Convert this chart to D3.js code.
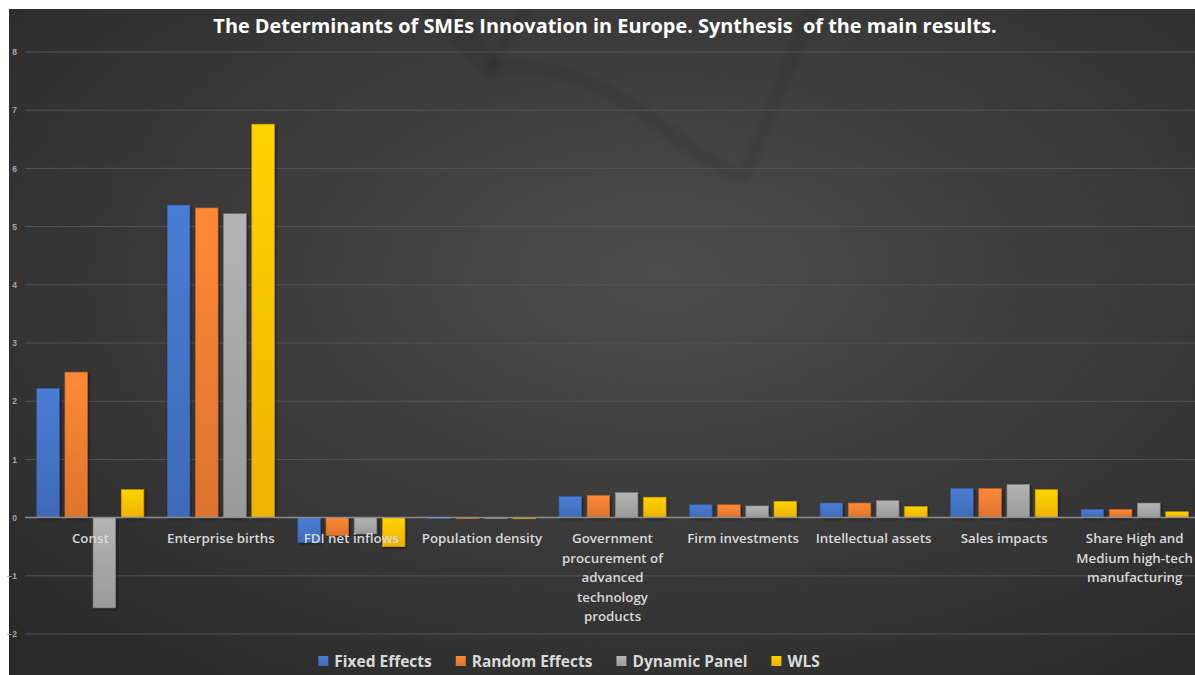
<!DOCTYPE html>
<html>
<head>
<meta charset="utf-8">
<script src="https://cdn.jsdelivr.net/npm/d3@7"></script>
<style>
  html, body { margin: 0; padding: 0; background: #fff; }
  svg { display: block; }
</style>
</head>
<body>
<svg id="chart" width="1195" height="675"></svg>
<script>
const title = "The Determinants of SMEs Innovation in Europe. Synthesis  of the main results.";

// category labels (line breaks as in the original)
const categories = [
    ["Const"],
    ["Enterprise births"],
    ["FDI net inflows"],
    ["Population density"],
    ["Government", "procurement of", "advanced", "technology", "products"],
    ["Firm investments"],
    ["Intellectual assets"],
    ["Sales impacts"],
    ["Share High and", "Medium high-tech", "manufacturing"]
];

const seriesNames = ["Fixed Effects", "Random Effects", "Dynamic Panel", "WLS"];
const seriesColors = ["#4472C4", "#ED7D31", "#A5A5A5", "#FFC000"];

const fixedEffects   = [2.22, 5.37, -0.43, -0.02, 0.36, 0.22, 0.25, 0.50, 0.14];
const randomEffects  = [2.50, 5.32, -0.31, -0.02, 0.38, 0.22, 0.25, 0.50, 0.14];
const dynamicPanel   = [-1.55, 5.22, -0.28, -0.02, 0.43, 0.20, 0.29, 0.57, 0.25];
const wls            = [0.48, 6.76, -0.50, -0.02, 0.35, 0.28, 0.19, 0.48, 0.10];

const yTicks = [-2, -1, 0, 1, 2, 3, 4, 5, 6, 7, 8];

const seriesValues = [fixedEffects, randomEffects, dynamicPanel, wls];

const svg = d3.select("#chart");
const W = 1195, H = 675;

// background panel
const defs = svg.append("defs");
const bg = defs.append("radialGradient").attr("id", "bg")
    .attr("cx", "55%").attr("cy", "40%").attr("r", "75%");
bg.append("stop").attr("offset", "0%").attr("stop-color", "#4c4c4c");
bg.append("stop").attr("offset", "100%").attr("stop-color", "#2a2a2a");

seriesColors.forEach((c, i) => {
    const g = defs.append("linearGradient").attr("id", "grad" + i)
        .attr("x1", 0).attr("y1", 0).attr("x2", 0).attr("y2", 1);
    g.append("stop").attr("offset", "0%").attr("stop-color", d3.color(c).brighter(0.25));
    g.append("stop").attr("offset", "100%").attr("stop-color", d3.color(c).darker(0.2));
});

const shadow = defs.append("filter").attr("id", "shadow")
    .attr("x", "-20%").attr("y", "-20%").attr("width", "150%").attr("height", "150%");
shadow.append("feDropShadow").attr("dx", 1.5).attr("dy", 1.5).attr("stdDeviation", 1.2)
    .attr("flood-color", "#000").attr("flood-opacity", 0.45);

defs.append("filter").attr("id", "soft")
    .append("feGaussianBlur").attr("stdDeviation", 2.5);

defs.append("clipPath").attr("id", "panelClip")
    .append("rect").attr("x", 9).attr("y", 9).attr("width", W - 9).attr("height", H - 9);

svg.append("rect").attr("x", 9).attr("y", 9).attr("width", W - 9).attr("height", H - 9)
    .attr("fill", "url(#bg)");

// faint watermark behind the plot
const wm = svg.append("g").attr("clip-path", "url(#panelClip)")
    .append("g").attr("filter", "url(#soft)")
    .attr("fill", "none").attr("stroke", "#000").attr("stroke-opacity", 0.07)
    .attr("stroke-linecap", "round").attr("stroke-linejoin", "round");
wm.append("path").attr("stroke-width", 24)
    .attr("d", "M428,0 L488,64");
wm.append("path").attr("stroke-width", 12)
    .attr("d", "M530,0 L494,62");
wm.append("path").attr("stroke-width", 15)
    .attr("d", "M490,70 C560,58 620,95 660,125 C690,148 715,170 745,175 L815,0");

// scales
const y = d3.scaleLinear().domain([-2, 8]).range([634, 52]);
const x0 = d3.scaleBand().domain(d3.range(categories.length))
    .range([25, 1200]).paddingInner(0.18).paddingOuter(0.09);
const x1 = d3.scaleBand().domain(d3.range(seriesNames.length))
    .range([0, x0.bandwidth()]).paddingInner(0.2);

// gridlines
svg.append("g").selectAll("line").data(yTicks.filter(t => t !== 0)).enter()
    .append("line")
    .attr("x1", 25).attr("x2", W)
    .attr("y1", d => y(d)).attr("y2", d => y(d))
    .attr("stroke", "#555555").attr("stroke-width", 1);

// y tick labels
const yAxis = svg.append("g").attr("transform", "translate(17,0)")
    .call(d3.axisLeft(y).tickValues(yTicks).tickSize(0).tickPadding(0));
yAxis.select(".domain").remove();
yAxis.selectAll("text")
    .attr("fill", "#a6a6a6")
    .style("font-family", "'Liberation Sans', Arial, sans-serif")
    .style("font-size", "8.5px")
    .style("font-weight", "bold");

// bars
const groups = svg.append("g").selectAll("g").data(categories).enter()
    .append("g")
    .attr("transform", (d, i) => `translate(${x0(i)},0)`);

groups.selectAll("rect")
    .data((d, ci) => seriesValues.map((vals, si) => ({si, v: vals[ci]})))
    .enter().append("rect")
    .attr("x", d => x1(d.si))
    .attr("width", x1.bandwidth())
    .attr("y", d => y(Math.max(0, d.v)))
    .attr("height", d => Math.max(1, Math.abs(y(d.v) - y(0))))
    .attr("fill", d => `url(#grad${d.si})`)
    .attr("stroke", d => d3.color(seriesColors[d.si]).darker(0.6))
    .attr("stroke-width", 0.6)
    .attr("filter", "url(#shadow)");

// zero line
svg.append("line").attr("x1", 25).attr("x2", W)
    .attr("y1", y(0)).attr("y2", y(0))
    .attr("stroke", "#8c8c8c").attr("stroke-width", 1.5);

// category labels
const catLabels = svg.append("g").selectAll("text").data(categories).enter()
    .append("text")
    .attr("text-anchor", "middle")
    .attr("fill", "#d9d9d9")
    .style("font-family", "'Open Sans', sans-serif")
    .style("font-size", "13.3px")
    .style("font-weight", "600")
    .attr("transform", (d, i) => `translate(${x0(i) + x0.bandwidth() / 2},543)`);
catLabels.each(function(lines) {
    lines.forEach((line, k) => {
        d3.select(this).append("tspan")
            .attr("x", 0)
            .attr("dy", k === 0 ? 0 : 19.5)
            .text(line);
    });
});

// title
const titleText = svg.append("text")
    .attr("x", 605).attr("y", 33)
    .attr("text-anchor", "middle")
    .attr("fill", "#ffffff")
    .style("font-family", "'Open Sans', sans-serif")
    .style("font-weight", "bold")
    .style("font-size", "17px")
    .style("white-space", "pre")
    .text(title);
const tw = titleText.node().getComputedTextLength();
titleText.style("font-size", (17 * 784 / tw) + "px");

// legend
const legend = svg.append("g");
let lx = 0;
seriesNames.forEach((name, i) => {
    const item = legend.append("g").attr("transform", `translate(${lx},0)`);
    item.append("rect").attr("x", 0).attr("y", -11).attr("width", 10).attr("height", 10)
        .attr("fill", `url(#grad${i})`);
    const t = item.append("text").attr("x", 16).attr("y", 0)
        .attr("fill", "#d9d9d9")
        .style("font-family", "'Open Sans', sans-serif")
        .style("font-size", "15.5px")
        .style("font-weight", "bold")
        .text(name);
    lx += 16 + t.node().getComputedTextLength() + 24;
});
const lw = lx - 24;
legend.attr("transform", `translate(${569 - lw / 2},667)`);
</script>
</body>
</html>
